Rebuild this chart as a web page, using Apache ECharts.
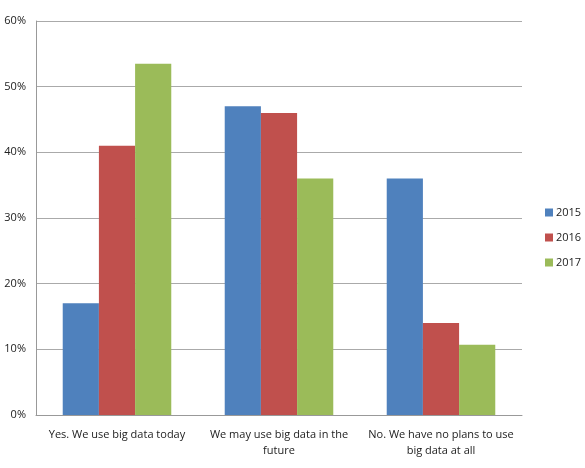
<!DOCTYPE html>
<html>
<head>
<meta charset="utf-8">
<script src="https://cdn.jsdelivr.net/npm/echarts@6/dist/echarts.min.js"></script>
<style>
  html, body { margin: 0; padding: 0; background: #fff; }
  #chart { width: 585px; height: 468px; }
</style>
</head>
<body>
<div id="chart"></div>
<script>
const categories = [
  'Yes. We use big data today',
  'We may use big data in the\nfuture',
  'No. We have no plans to use\nbig data at all'
];
const years = ['2015', '2016', '2017'];
const values2015 = [17, 47, 36];
const values2016 = [41, 46, 14];
const values2017 = [53.5, 36, 10.7];
const colors = ['#4F81BD', '#C0504D', '#9BBB59'];

const chart = echarts.init(document.getElementById('chart'));

const seriesData = [values2015, values2016, values2017];

chart.setOption({
  animation: false,
  textStyle: { fontFamily: '"Open Sans", "DejaVu Sans", sans-serif' },
  grid: { left: 36, right: 63, top: 21, bottom: 53 },
  legend: {
    orient: 'vertical',
    left: 540,
    top: 202,
    itemWidth: 8,
    itemHeight: 8,
    itemGap: 14,
    icon: 'rect',
    textStyle: { fontSize: 11, color: '#222', padding: [0, 0, 0, -2] },
    data: years
  },
  xAxis: {
    type: 'category',
    data: categories,
    axisLine: { lineStyle: { color: '#999' } },
    axisTick: { show: false },
    axisLabel: { color: '#222', fontSize: 11, margin: 12, lineHeight: 16, interval: 0 }
  },
  yAxis: {
    type: 'value',
    min: 0,
    max: 60,
    interval: 10,
    axisLine: { show: true, lineStyle: { color: '#999' } },
    axisTick: { show: false },
    axisLabel: { color: '#222', fontSize: 11, margin: 10, formatter: '{value}%' },
    splitLine: { lineStyle: { color: '#aaa' } }
  },
  series: years.map((y, i) => ({
    name: y,
    type: 'bar',
    data: seriesData[i],
    barGap: 0,
    barCategoryGap: '33%',
    itemStyle: { color: colors[i] }
  }))
});
</script>
</body>
</html>
